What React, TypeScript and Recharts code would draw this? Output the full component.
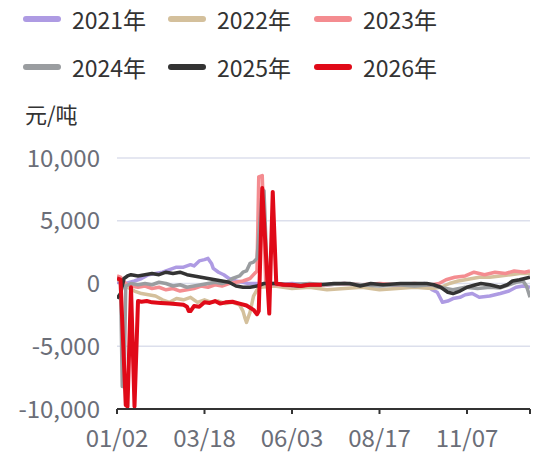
import { LineChart, Line, XAxis, YAxis, CartesianGrid } from "recharts";

// x = trading-day index (0..236), y = 元/吨
const xTickIndex = [0, 50, 100, 150, 200, 236];
const xTickLabels = ["01/02", "03/18", "06/03", "08/17", "11/07", ""];
const yTicks = [-10000, -5000, 0, 5000, 10000];

const s2021: [number, number][] = [
  [0, 100], [5, 0], [10, 200], [14, 400], [18, 700], [22, 800], [26, 900], [30, 1100],
  [34, 1300], [38, 1300], [42, 1500], [44, 1400], [47, 1800], [50, 1900], [52, 2000],
  [54, 1600], [55, 1200], [58, 900], [61, 700], [64, 400], [68, 200], [72, 100], [75, 0],
  [80, 0], [90, -100], [100, 0], [110, -100], [120, -100], [130, 0], [140, -200],
  [150, -100], [160, -200], [170, -100], [176, 0], [180, -500], [183, -700], [186, -1500],
  [189, -1400], [192, -1200], [196, -1100], [199, -900], [203, -800], [207, -1100],
  [213, -1000], [219, -800], [224, -600], [228, -300], [232, -200], [236, -300],
];

const s2022: [number, number][] = [
  [0, 300], [3, 200], [6, -300], [10, -600], [14, -800], [18, -900], [22, -1000],
  [26, -1300], [30, -1500], [34, -1200], [38, -1300], [42, -1100], [46, -1500],
  [50, -1300], [54, -1500], [58, -1400], [62, -1600], [66, -1500], [70, -1700],
  [72, -2200], [73, -2700], [74, -3100], [76, -2300], [78, -1000], [80, -500],
  [82, -300], [90, -200], [100, -400], [110, -300], [120, -500], [130, -400], [140, -300],
  [150, -500], [160, -400], [170, -300], [180, -400], [185, -300], [190, 0], [195, 200],
  [199, 300], [203, 400], [207, 500], [213, 500], [219, 600], [225, 700], [230, 800],
  [236, 800],
];

const s2023: [number, number][] = [
  [0, 600], [2, 500], [5, 0], [8, -200], [12, -300], [16, -200], [20, -400], [24, -300],
  [28, -500], [32, -400], [36, -600], [40, -500], [44, -400], [48, -200], [52, -300],
  [56, -100], [60, -200], [64, 0], [68, 100], [72, 200], [76, 400], [80, 1000],
  [81, 8500], [83, 8600], [85, 0], [90, -100], [100, -200], [110, -100], [120, -100],
  [130, 0], [140, -100], [150, 0], [160, -100], [170, 0], [180, -100], [184, 0],
  [188, 300], [193, 500], [199, 600], [204, 900], [210, 700], [216, 900], [222, 800],
  [227, 1000], [233, 900], [236, 1000],
];

const s2024: [number, number][] = [
  [0, 400], [2, 300], [3, -8200], [4, -8200], [5, -200], [8, 0], [12, -100], [16, 0],
  [20, -100], [24, 100], [28, 0], [32, -200], [36, -100], [40, -300], [44, -200],
  [48, -100], [52, 0], [56, 100], [60, 0], [64, 200], [66, 400], [70, 600], [72, 900],
  [74, 1000], [76, 1600], [78, 1700], [80, 2000], [83, 7400], [84, 7400], [86, 0],
  [90, 0], [100, -100], [110, 0], [120, -100], [130, 0], [140, -100], [150, -200],
  [160, -100], [170, -200], [180, -100], [184, -300], [188, -400], [192, -500],
  [199, -300], [206, -400], [213, -300], [219, -350], [224, -100], [228, 100],
  [232, 200], [234, -200], [236, -1100],
];

const s2025: [number, number][] = [
  [0, -1200], [2, -800], [4, 400], [6, 600], [8, 700], [12, 600], [16, 700], [20, 800],
  [24, 700], [28, 900], [32, 800], [36, 900], [40, 700], [44, 600], [48, 500], [52, 400],
  [56, 300], [60, 200], [64, 100], [68, -200], [72, -300], [76, -300], [80, -200],
  [84, 0], [90, 0], [96, -100], [104, -200], [110, -100], [116, -100], [124, 0],
  [133, 0], [136, -100], [139, -200], [145, 0], [152, -100], [162, 0], [170, 0],
  [177, 0], [181, -100], [185, -300], [189, -700], [192, -800], [196, -600], [200, -300],
  [205, -100], [208, 0], [213, -100], [219, -300], [223, -100], [226, 200], [230, 300],
  [233, 400], [236, 500],
];

const s2026: [number, number][] = [
  [0, 400], [2, 300], [5, -9700], [6, -9800], [8, -300], [10, -9800], [12, -1400],
  [14, -1450], [17, -1400], [20, -1500], [25, -1550], [30, -1600], [35, -1650],
  [38, -1700], [40, -1850], [41, -2200], [42, -2200], [44, -1800], [47, -1850],
  [50, -1500], [53, -1550], [56, -1400], [59, -1600], [62, -1500], [66, -1450],
  [70, -1600], [74, -1750], [78, -2100], [80, -2450], [81, -2200], [83, 7600],
  [87, -2400], [89, 7300], [91, 0], [95, -100], [100, -100], [105, -200], [110, -100],
  [117, -100],
];

const seriesNames = ["2021年", "2022年", "2023年", "2024年", "2025年", "2026年"];
const seriesData = [s2021, s2022, s2023, s2024, s2025, s2026];
const seriesColors = ["#ae9be3", "#d4c09c", "#f48c90", "#9a9da0", "#333333", "#e00a18"];
const seriesWidths = [3.5, 3.5, 3.5, 3.5, 3.5, 4];

const font = '"Noto Sans CJK SC", "Noto Sans", sans-serif';
const tickColor = "#6b6e78";

function LegendRow({ start }: { start: number }) {
  const lefts = [23, 168, 314];
  return (
    <>
      {lefts.map((left, i) => {
        const k = start + i;
        return (
          <div
            key={seriesNames[k]}
            style={{ position: "absolute", left, top: start === 0 ? 5 : 53, height: 28, display: "flex", alignItems: "center" }}
          >
            <div style={{ width: 38, height: 6, borderRadius: 3, backgroundColor: seriesColors[k] }} />
            <span style={{ marginLeft: 11, fontSize: 23, color: "#333", lineHeight: "28px" }}>{seriesNames[k]}</span>
          </div>
        );
      })}
    </>
  );
}

export default function App() {
  return (
    <div style={{ position: "absolute", left: 0, top: 0, width: 541, height: 455, background: "#fff", fontFamily: font }}>
      <LegendRow start={0} />
      <LegendRow start={3} />
      <div style={{ position: "absolute", left: 25, top: 99, fontSize: 22, color: "#333", lineHeight: "28px" }}>元/吨</div>
      <LineChart width={541} height={455} margin={{ top: 158, right: 11, bottom: 16, left: 12 }}>
        <CartesianGrid vertical={false} stroke="#dcdfec" strokeWidth={1.5} />
        <XAxis
          type="number"
          dataKey="x"
          domain={[0, 236]}
          ticks={xTickIndex}
          tickFormatter={(v: number) => xTickLabels[xTickIndex.indexOf(v)] ?? ""}
          axisLine={{ stroke: "#333", strokeWidth: 2 }}
          tickLine={{ stroke: "#333", strokeWidth: 2 }}
          tickSize={5}
          tickMargin={16}
          height={30}
          tick={{ fill: tickColor, fontSize: 24, fontFamily: font }}
          interval={0}
          allowDataOverflow
        />
        <YAxis
          type="number"
          domain={[-10000, 10000]}
          ticks={yTicks}
          width={105}
          axisLine={false}
          tickLine={false}
          tickSize={0}
          tickMargin={17}
          tickFormatter={(v: number) => v.toLocaleString("en-US")}
          tick={{ fill: tickColor, fontSize: 24, fontFamily: font }}
          interval={0}
        />
        {seriesData.map((s, i) => (
          <Line
            key={seriesNames[i]}
            data={s.map(([x, y]) => ({ x, y }))}
            dataKey="y"
            name={seriesNames[i]}
            stroke={seriesColors[i]}
            strokeWidth={seriesWidths[i]}
            dot={false}
            activeDot={false}
            isAnimationActive={false}
            strokeLinejoin="round"
          />
        ))}
      </LineChart>
    </div>
  );
}
